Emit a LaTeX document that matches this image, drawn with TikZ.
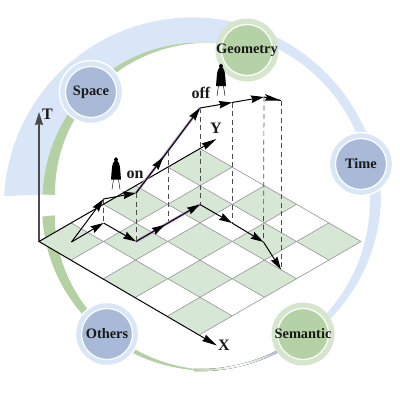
\documentclass[tikz,border=0pt]{standalone}
\usepackage{fontspec}
\setmainfont{Liberation Serif}
\usetikzlibrary{arrows.meta,decorations.markings}
\definecolor{ringblue}{HTML}{D9E6F8}
\definecolor{ringgreen}{HTML}{B3D1A3}
\definecolor{cellgreen}{HTML}{D6E7D5}
\definecolor{nodeblue}{HTML}{A8BAD7}
\definecolor{nodegreen}{HTML}{B5D2A6}
\definecolor{haloGreen}{HTML}{D5E6CD}
\definecolor{traj}{HTML}{B49CC4}
\tikzset{
  x=1pt,y=-1pt,
  head/.tip={Stealth[length=13pt,width=7.5pt,inset=1.5pt]},
  cell/.style={fill=cellgreen,draw=none},
  gridline/.style={draw=black!42,line width=.6pt},
  axisline/.style={draw=black,line width=1pt},
  dropline/.style={draw=black!70,line width=.7pt,dash pattern=on 5pt off 3.5pt},
  seg/.style={draw=black,line width=1pt},
  endhead/.style={seg,-head},
  midhead/.style={seg,postaction={decorate},decoration={markings,mark=at position #1 with {\arrow{head}}}},
  purple/.style={draw=traj,line width=2.6pt},
  axlbl/.style={font=\bfseries\fontsize{16}{18}\selectfont,text=black!90,inner sep=0pt},
  topic/.style={circle,minimum size=51pt,inner sep=0pt,draw=white,line width=1.2pt,font=\bfseries\fontsize{14.4}{16}\selectfont,text=black!90},
  bluetopic/.style={topic,fill=nodeblue},
  greentopic/.style={topic,fill=nodegreen},
  blueHalo/.style={fill=ringblue,draw=white,line width=1.4pt},
  greenHalo/.style={fill=haloGreen,draw=none},
  man/.style={fill=black,draw=none},
  leg/.style={draw=black,line width=.45pt},
  arcplot/.style={samples=70,variable=\t,smooth}
}
\newcommand{\walker}[2]{%
  \begin{scope}[shift={(#1,#2)}]
    \fill[man] (0,-16.5) .. controls (2.2,-16.5) and (2.2,-13) .. (1.6,-12)
      .. controls (4,-11) and (4,-6) .. (5,6) -- (-5,6)
      .. controls (-4,-6) and (-4,-11) .. (-1.6,-12)
      .. controls (-2.2,-13) and (-2.2,-16.5) .. (0,-16.5) -- cycle;
    \draw[leg] (-2.5,6) -- (-4,16);
    \draw[leg] (2.5,6) -- (4,16);
  \end{scope}}
\begin{document}
\begin{tikzpicture}
\useasboundingbox (0,0) rectangle (400,400);
% ring: blue band
\fill[ringblue]
  plot[arcplot,domain=177:2] ({192.5+188.6*cos(\t)},{206-188.6*sin(\t)})
  -- plot[arcplot,domain=0:-55] ({200+(181+6*\t/55)*cos(\t)},{200-(181+6*\t/55)*sin(\t)})
  -- plot[arcplot,domain=-55:64] ({200+170*cos(\t)},{200-170*sin(\t)})
  -- plot[arcplot,domain=82:178] ({200+157.5*cos(\t)},{200-157.5*sin(\t)}) -- cycle;
% ring: green upper band
\fill[ringgreen]
  plot[arcplot,domain=178:85] ({200+157.5*cos(\t)},{200-157.5*sin(\t)})
  -- plot[arcplot,domain=85:178] ({200+(145+(178-\t)/88*12)*cos(\t)},{200-(145+(178-\t)/88*12)*sin(\t)}) -- cycle;
% ring: green lower band
\fill[ringgreen]
  plot[arcplot,domain=186:270] ({200+(158.5+(\t-186)/84*12)*cos(\t)},{200-(158.5+(\t-186)/84*12)*sin(\t)})
  -- plot[arcplot,domain=270:186] ({200+(146+(\t-186)/84*23.5)*cos(\t)},{200-(146+(\t-186)/84*23.5)*sin(\t)}) -- cycle;
% ring: fading tail
\fill[left color=ringgreen,right color=nodeblue!90,middle color=white]
  plot[arcplot,domain=268:298] ({200+171.2*cos(\t)},{200-171.2*sin(\t)})
  -- plot[arcplot,domain=298:268] ({200+169*cos(\t)},{200-169*sin(\t)}) -- cycle;
% board
\foreach \i in {0,...,4}{\foreach \j in {0,...,4}{
  \pgfmathtruncatemacro{\ev}{mod(\i+\j,2)}
  \ifnum\ev=0
    \fill[cell] ({39+32.2*(\i+\j)},{241.5+18.6*(\i-\j)}) -- ++(32.2,18.6) -- ++(32.2,-18.6) -- ++(-32.2,-18.6) -- cycle;
  \fi}}
\foreach \k in {1,...,5}{
  \draw[gridline] ({39+32.2*\k},{241.5+18.6*\k}) -- ++(161,-93);
  \draw[gridline] ({39+32.2*\k},{241.5-18.6*\k}) -- ++(161,93);
}
% named points
\coordinate (O) at (39,241.5);
\coordinate (Xend) at (217,345.5);
\coordinate (Yend) at (216.5,139);
\coordinate (Tend) at (39,112);
\coordinate (g0) at (71.5,242);
\coordinate (g1) at (103.5,223);
\coordinate (g2) at (136,241.5);
\coordinate (g3) at (168,223);
\coordinate (g4) at (200,204.5);
\coordinate (g5) at (232,223);
\coordinate (g6) at (263.5,242);
\coordinate (g7) at (281,269.5);
\coordinate (h1) at (103.5,199);
\coordinate (h2) at (136,193);
\coordinate (h3) at (168,151);
\coordinate (h4) at (200,108);
\coordinate (h5) at (232,102.5);
\coordinate (h6) at (264,97);
\coordinate (h7) at (281,100.5);
% drop lines
\draw[dropline] (h1) -- (g1);
\draw[dropline] (h2) -- (g2);
\draw[dropline] (h3) -- (g3);
\draw[dropline] (h4) -- (g4);
\draw[dropline] (h5) -- (g5);
\draw[dropline] (h6) -- (g6);
\draw[dropline] (h7) -- (g7);
% axes
\draw[draw=black!70,line width=1.2pt,-{Stealth[length=13pt,width=8pt,inset=1pt]}] (O) -- (Tend);
\draw[axisline,-{Stealth[length=15pt,width=7pt,inset=1pt]}] (O) -- (Xend);
\draw[axisline,-{Stealth[length=15pt,width=7pt,inset=1pt]}] (O) -- (Yend);
% highlighted parts
\draw[purple] (g2) -- (g4);
\draw[purple] (h2) -- (h4);
% ground track
\draw[endhead] (g0) -- (g1);
\draw[endhead] (g1) -- (g2);
\draw[midhead=.9] (g2) -- (g3);
\draw[endhead] (g3) -- (g4);
\draw[endhead] (g4) -- (g5);
\draw[endhead] (g5) -- (g6);
\draw[endhead] (g6) -- (g7);
% raised track
\draw[endhead] (g0) -- (h1);
\draw[endhead] (h1) -- (h2);
\draw[midhead=.85] (h2) -- (h3);
\draw[endhead] (h3) -- (h4);
\draw[endhead] (h4) -- (h5);
\draw[endhead] (h5) -- (h6);
\draw[seg] (h6) -- (h7);
\fill (265,94) -- (281,100.5) -- (265,100.5) -- (267,97) -- cycle;
% topics
\path[blueHalo] (91,92) circle (31.5);
\node[bluetopic] (space) at (91,92) {\makebox[0pt]{Space}};
\path[greenHalo] (247,50) circle (31.5);
\node[greentopic] (geom) at (247,50) {\makebox[0pt]{Geometry}};
\path[blueHalo] (361,164) circle (31.5);
\node[bluetopic] (time) at (361,164) {\makebox[0pt]{Time}};
\path[blueHalo] (107,334) circle (31.5);
\node[bluetopic] (others) at (107,334) {\makebox[0pt]{Others}};
\path[greenHalo] (303,334) circle (31.5);
\node[greentopic] (sem) at (303,334) {\makebox[0pt]{Semantic}};
% figures
\walker{116}{173.5}
\walker{221}{80}
% labels
\node[axlbl] (tl) at (47.5,114) {T};
\node[axlbl] (yl) at (216,128) {Y};
\node[axlbl] (xl) at (224,345) {X};
\node[axlbl] (onl) at (135,175) {on};
\node[axlbl] (offl) at (201,92.5) {off};
\end{tikzpicture}
\end{document}
